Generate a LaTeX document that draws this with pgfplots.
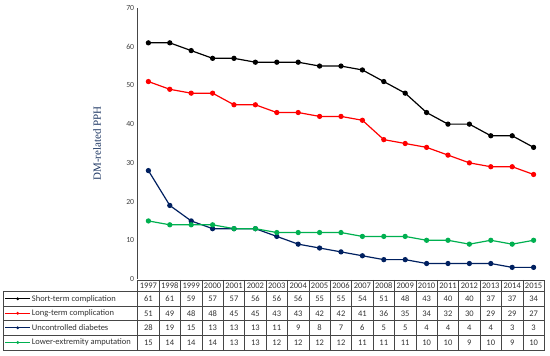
\documentclass[border=0pt]{standalone}
\usepackage{pgfplots}
\pgfplotsset{compat=1.18}
\usepackage{fontspec}
\setmainfont{Carlito}
\newfontfamily\labelfont{Liberation Serif}
\definecolor{cred}{RGB}{255,0,0}
\definecolor{cnavy}{RGB}{0,32,96}
\definecolor{cgreen}{RGB}{0,176,80}
\definecolor{labelblue}{RGB}{31,56,100}
\definecolor{gridc}{RGB}{70,70,70}
\begin{document}
\begin{tikzpicture}[x=1pt,y=1pt]
\path[use as bounding box] (-137.7,-77) rectangle (412.3,279);
\begin{axis}[at={(0,0)}, anchor=south west, scale only axis,
  width=406.6pt, height=271pt,
  xmin=-0.5, xmax=18.5, ymin=0, ymax=70,
  axis x line=none, axis y line*=left,
  axis line style={gridc, line width=0.7pt},
  ytick={0,10,...,70}, major tick length=0pt,
  /pgf/number format/assume math mode=true,
  yticklabel style={font=\fontsize{7.8}{8}\selectfont, text=black!75},
  ylabel={DM-related PPH},
  every axis y label/.append style={at={(axis description cs:-0.1,0.5)}, anchor=center},
  ylabel style={font=\labelfont\fontsize{11}{12}\selectfont, text=labelblue},
  clip=false,
  every axis plot/.append style={line width=1.2pt, mark=*, mark size=2pt},
]
\addplot[black, mark options={fill=black}] coordinates {(0,61)(1,61)(2,59)(3,57)(4,57)(5,56)(6,56)(7,56)(8,55)(9,55)(10,54)(11,51)(12,48)(13,43)(14,40)(15,40)(16,37)(17,37)(18,34)};
\addplot[cred, mark options={fill=cred}] coordinates {(0,51)(1,49)(2,48)(3,48)(4,45)(5,45)(6,43)(7,43)(8,42)(9,42)(10,41)(11,36)(12,35)(13,34)(14,32)(15,30)(16,29)(17,29)(18,27)};
\addplot[cnavy, mark options={fill=cnavy}] coordinates {(0,28)(1,19)(2,15)(3,13)(4,13)(5,13)(6,11)(7,9)(8,8)(9,7)(10,6)(11,5)(12,5)(13,4)(14,4)(15,4)(16,4)(17,3)(18,3)};
\addplot[cgreen, mark options={fill=cgreen}] coordinates {(0,15)(1,14)(2,14)(3,14)(4,13)(5,13)(6,12)(7,12)(8,12)(9,12)(10,11)(11,11)(12,11)(13,10)(14,10)(15,9)(16,10)(17,9)(18,10)};
\end{axis}
% data table
\begin{scope}[font=\fontsize{8.5}{9}\selectfont]
\draw[gridc, line width=0.6pt] (0,-1) rectangle (406.6,-12.7);
\draw[gridc, line width=0.6pt] (-134.4,-12.7) rectangle (406.6,-71);
\foreach \yy in {-27,-41.7,-56} \draw[gridc, line width=0.6pt] (-134.4,\yy) -- (406.6,\yy);
\foreach \k in {0,...,18} \draw[gridc, line width=0.6pt] (\k*21.4,-1) -- (\k*21.4,-71);
\foreach \v [count=\i from 0] in {1997,1998,1999,2000,2001,2002,2003,2004,2005,2006,2007,2008,2009,2010,2011,2012,2013,2014,2015}
  \node[text=black!80, inner sep=0pt] at (\i*21.4+10.7,-6.85) {\v};
\foreach \v [count=\i from 0] in {61,61,59,57,57,56,56,56,55,55,54,51,48,43,40,40,37,37,34}
  \node[text=black!80] at (\i*21.4+10.7,-19.85) {\v};
\foreach \v [count=\i from 0] in {51,49,48,48,45,45,43,43,42,42,41,36,35,34,32,30,29,29,27}
  \node[text=black!80] at (\i*21.4+10.7,-34.35) {\v};
\foreach \v [count=\i from 0] in {28,19,15,13,13,13,11,9,8,7,6,5,5,4,4,4,4,3,3}
  \node[text=black!80] at (\i*21.4+10.7,-48.85) {\v};
\foreach \v [count=\i from 0] in {15,14,14,14,13,13,12,12,12,12,11,11,11,10,10,9,10,9,10}
  \node[text=black!80] at (\i*21.4+10.7,-63.5) {\v};
% legend keys
\foreach \c/\yy/\t in {black/-19.85/Short-term complication, cred/-34.35/Long-term complication, cnavy/-48.85/Uncontrolled diabetes, cgreen/-63.5/Lower-extremity amputation}{
  \draw[\c, line width=1.2pt] (-132.5,\yy) -- (-107.5,\yy);
  \fill[\c] (-120,\yy) circle (1.6pt);
  \node[anchor=west, inner sep=0pt, text=black!80] at (-106,\yy) {\t};
}
\end{scope}
\end{tikzpicture}
\end{document}
